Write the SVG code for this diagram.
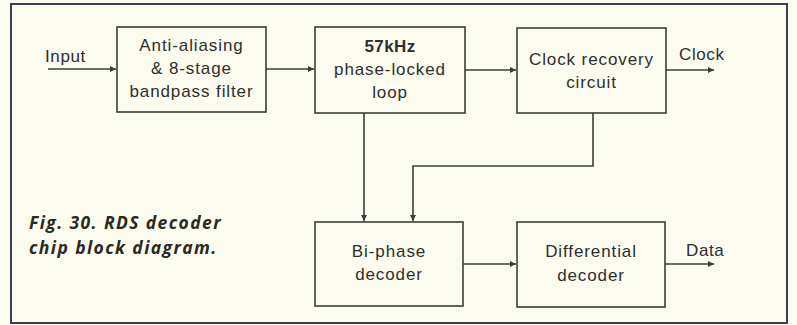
<svg xmlns="http://www.w3.org/2000/svg" width="797" height="325" viewBox="0 0 797 325">
<defs>
<style>
.box{fill:none;stroke:#3c3c3c;stroke-width:1.6}
.t{font-family:"Liberation Sans",Arial,sans-serif;font-size:17px;fill:#2e2e2e;letter-spacing:0.9px;text-anchor:middle}
.b{font-weight:bold;letter-spacing:0.4px}
.lbl{font-family:"Liberation Sans",Arial,sans-serif;font-size:17px;fill:#2e2e2e;letter-spacing:0.6px}
.cap{font-family:"Open Sans","Liberation Sans",sans-serif;font-size:17.5px;font-weight:bold;font-style:italic;fill:#2a2a22;letter-spacing:1.4px}
.c{fill:none;stroke:#3c3c3c;stroke-width:1.6}
</style>
<marker id="ah" viewBox="0 0 10 10" refX="10" refY="5" markerWidth="9" markerHeight="6" markerUnits="userSpaceOnUse" orient="auto">
<path d="M0,0 L10,5 L0,10 z" fill="#3c3c3c"/>
</marker>
</defs>
<rect x="0" y="0" width="797" height="325" fill="#fbfbef"/>
<rect id="frame" x="11" y="4" width="776" height="319" fill="none" stroke="#3d3d58" stroke-width="2"/>

<g id="connectors">
<path class="c" d="M48,69 H116" marker-end="url(#ah)"/>
<path class="c" d="M266,69 H314" marker-end="url(#ah)"/>
<path class="c" d="M465,70 H516" marker-end="url(#ah)"/>
<path class="c" d="M666,70 H714" marker-end="url(#ah)"/>
<path class="c" d="M364,113 V221" marker-end="url(#ah)"/>
<path class="c" d="M593,113 V166 H413 V221" marker-end="url(#ah)"/>
<path class="c" d="M463,264 H516" marker-end="url(#ah)"/>
<path class="c" d="M665,264 H714" marker-end="url(#ah)"/>
</g>

<g id="input-label"><text class="lbl" x="45" y="62">Input</text></g>
<g id="clock-label"><text class="lbl" x="679" y="60">Clock</text></g>
<g id="data-label"><text class="lbl" x="686" y="256">Data</text></g>

<g id="filter">
<rect class="box" x="117" y="27" width="149" height="85"/>
<text class="t" x="191.5" y="51">Anti-aliasing</text>
<text class="t" x="191.5" y="74">&amp; 8-stage</text>
<text class="t" x="191.5" y="97">bandpass filter</text>
</g>

<g id="pll">
<rect class="box" x="315" y="27" width="150" height="86"/>
<text class="t b" x="390" y="52">57kHz</text>
<text class="t" x="390" y="75">phase-locked</text>
<text class="t" x="390" y="98">loop</text>
</g>

<g id="clock-recovery">
<rect class="box" x="517" y="28" width="149" height="85"/>
<text class="t" x="591.5" y="65">Clock recovery</text>
<text class="t" x="591.5" y="88">circuit</text>
</g>

<g id="biphase">
<rect class="box" x="315" y="222" width="148" height="84"/>
<text class="t" x="389" y="257">Bi-phase</text>
<text class="t" x="389" y="280">decoder</text>
</g>

<g id="differential">
<rect class="box" x="517" y="222" width="148" height="85"/>
<text class="t" x="591" y="257">Differential</text>
<text class="t" x="591" y="281">decoder</text>
</g>

<g id="caption">
<text class="cap" x="29" y="229">Fig. 30. RDS decoder</text>
<text class="cap" x="29" y="254">chip block diagram.</text>
</g>
</svg>
